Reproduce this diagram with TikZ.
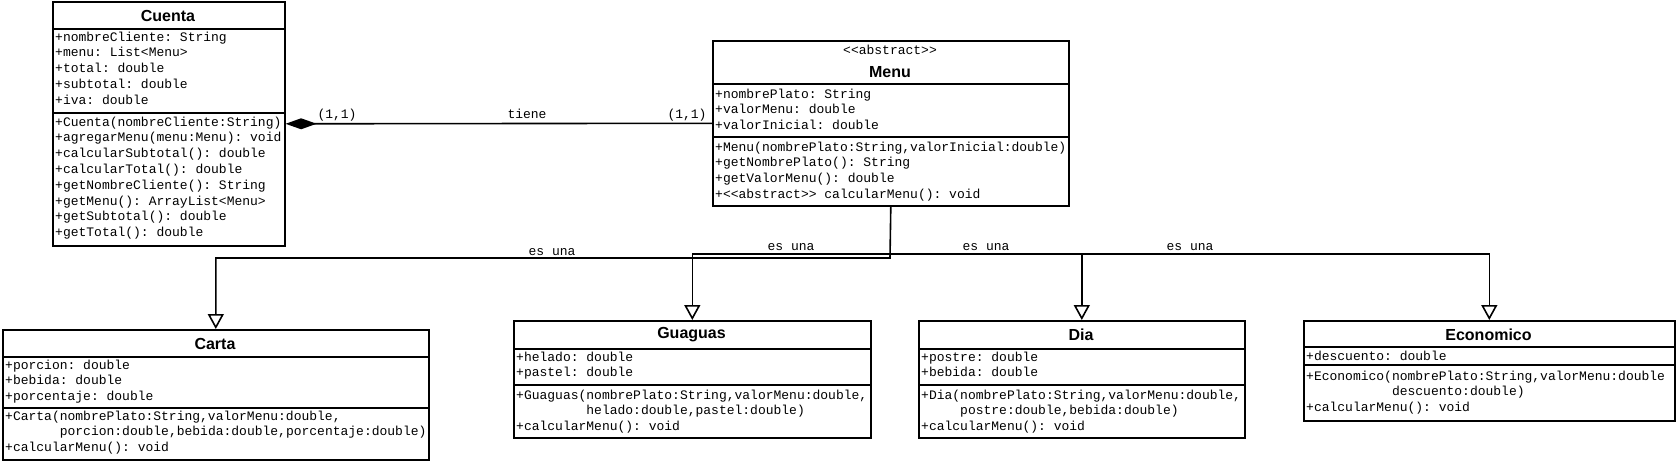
\documentclass[tikz,border=0pt]{standalone}
\usepackage{fontspec}
\setmainfont{Liberation Sans}
\setmonofont{Liberation Mono}
\usetikzlibrary{arrows.meta}
\newcommand\classrows[4]{\foreach \t [count=\i from 0] in {#4}{\node[txt, anchor=west] (#1-\i) at (#2, {#3+\i*15.8}) {\t};}}
\tikzset{
 box/.style={draw, line width=1.6pt, inner sep=0, anchor=north west},
 txt/.style={font=\ttfamily\fontsize{13}{15}\selectfont, inner sep=0, text height=9pt, text depth=3pt},
 ttl/.style={font=\bfseries\fontsize{16}{18}\selectfont, inner sep=0},
 div/.style={line width=1.6pt},
 conn/.style={line width=1.6pt},
 inh/.style={conn, -{Triangle[open, length=15pt, width=16pt]}},
 lbl/.style={txt, anchor=center}
}
\begin{document}
\begin{tikzpicture}[x=1pt,y=-1pt]
\useasboundingbox (0,0) rectangle (1676,461);
% ---------- Cuenta
\node[ttl] (cuentaT) at (168,16) {Cuenta};
\classrows{cuentaA}{55}{38}{{+nombreCliente: String},{+menu: List<Menu>},{+total: double},{+subtotal: double},{+iva: double}}
\classrows{cuentaM}{55}{123}{{+Cuenta(nombreCliente:String)},{+agregarMenu(menu:Menu): void},{+calcularSubtotal(): double},{+calcularTotal(): double},{+getNombreCliente(): String},{+getMenu(): ArrayList<Menu>},{+getSubtotal(): double},{+getTotal(): double}}
\node[box, fill=none, minimum width=232pt, minimum height=244pt] (cuenta) at (52,1) {};
\draw[div] (52,29) -- (284,29);
\draw[div] (52,113) -- (284,113);
% ---------- Menu
\node[txt, anchor=center] (menuS) at (890,51) {<<abstract>>};
\node[ttl] (menuT) at (890,72) {Menu};
\classrows{menuA}{715}{95}{{+nombrePlato: String},{+valorMenu: double},{+valorInicial: double}}
\classrows{menuM}{715}{148}{{+Menu(nombrePlato:String,valorInicial:double)},{+getNombrePlato(): String},{+getValorMenu(): double},{+<<abstract>> calcularMenu(): void}}
\node[box, minimum width=356pt, minimum height=165pt] (menu) at (712,40) {};
\draw[div] (712,84) -- (1068,84);
\draw[div] (712,137) -- (1068,137);
% ---------- Carta
\node[ttl] (cartaT) at (215,344) {Carta};
\classrows{cartaA}{5}{366}{{+porcion: double},{+bebida: double},{+porcentaje: double}}
\classrows{cartaM}{5}{417}{{+Carta(nombrePlato:String,valorMenu:double,},{\phantom{+Carta(}porcion:double,bebida:double,porcentaje:double)},{+calcularMenu(): void}}
\node[box, minimum width=426pt, minimum height=130pt] (carta) at (2,329) {};
\draw[div] (2,357) -- (428,357);
\draw[div] (2,408) -- (428,408);
% ---------- Guaguas
\node[ttl] (guaguasT) at (691.5,335) {Guaguas};
\classrows{guaguasA}{516}{358}{{+helado: double},{+pastel: double}}
\classrows{guaguasM}{516}{396}{{+Guaguas(nombrePlato:String,valorMenu:double,},{\phantom{+Guaguas(}helado:double,pastel:double)},{+calcularMenu(): void}}
\node[box, minimum width=357pt, minimum height=117pt] (guaguas) at (513,320) {};
\draw[div] (513,349) -- (870,349);
\draw[div] (513,385) -- (870,385);
% ---------- Dia
\node[ttl] (diaT) at (1081,335) {Dia};
\classrows{diaA}{921}{358}{{+postre: double},{+bebida: double}}
\classrows{diaM}{921}{396}{{+Dia(nombrePlato:String,valorMenu:double,},{\phantom{+Dia(}postre:double,bebida:double)},{+calcularMenu(): void}}
\node[box, minimum width=326pt, minimum height=117pt] (dia) at (918,320) {};
\draw[div] (918,349) -- (1244,349);
\draw[div] (918,385) -- (1244,385);
% ---------- Economico
\node[ttl] (ecoT) at (1488.5,335) {Economico};
\classrows{ecoA}{1306}{357}{{+descuento: double}}
\classrows{ecoM}{1306}{377}{{+Economico(nombrePlato:String,valorMenu:double},{\phantom{+Economico(}descuento:double)},{+calcularMenu(): void}}
\node[box, minimum width=371pt, minimum height=100pt] (eco) at (1303,320) {};
\draw[div] (1303,347) -- (1674,347);
\draw[div] (1303,365) -- (1674,365);
% ---------- Composition
\draw[conn, {Diamond[length=31pt, width=11pt]}-] (cuenta.east) -- (menu.west);
\node[lbl] (m1) at (337,115) {(1,1)};
\node[lbl] (tiene) at (527,115) {tiene};
\node[lbl] (m2) at (687,115) {(1,1)};
% ---------- Inheritance
\coordinate (j1) at (890,258);
\coordinate (j2) at (890,254);
\draw[inh] (menu.south) -- (j1) -| (carta.north);
\draw[inh] (j2) -| (guaguas.north);
\draw[inh] (j2) -| (dia.north);
\draw[inh] (j2) -| (eco.north);
\node[lbl] (e1) at (552,252) {es una};
\node[lbl] (e2) at (791,247) {es una};
\node[lbl] (e3) at (986,247) {es una};
\node[lbl] (e4) at (1190,247) {es una};
\end{tikzpicture}
\end{document}
